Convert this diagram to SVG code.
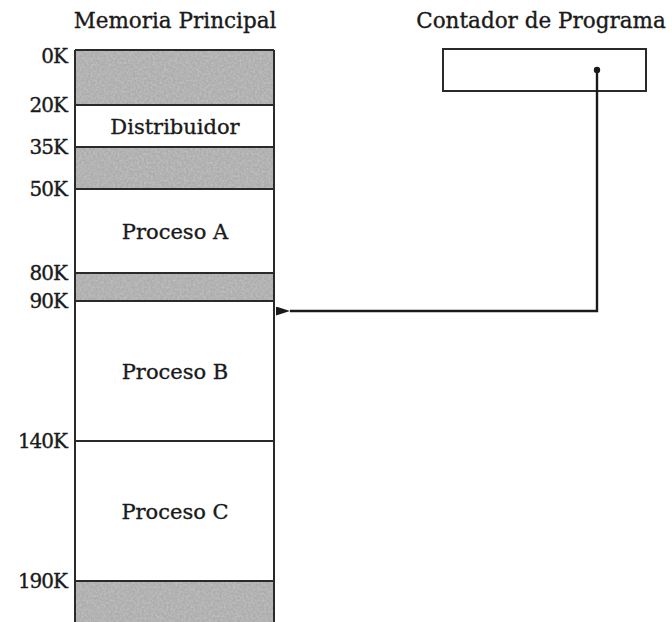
<svg xmlns="http://www.w3.org/2000/svg" width="672" height="622" viewBox="0 0 672 622">
<style>
  text { font-family: "DejaVu Serif", "Liberation Serif", serif; fill: #1a1a1a; stroke: #1a1a1a; stroke-width: 0.35; }
  .title { font-size: 21.5px; text-anchor: middle; }
  .addr { font-size: 20px; text-anchor: end; letter-spacing: -1px; }
  .lbl { font-size: 21px; text-anchor: middle; }
  .free { fill: #adadad; stroke: none; }
  .tex { filter: url(#noise); }
  .sep { stroke: #2a2a2a; stroke-width: 2; fill: none; }
  .box { fill: #fff; stroke: #2a2a2a; stroke-width: 2; }
  .conn { stroke: #1a1a1a; stroke-width: 2.4; fill: none; }
</style>
<defs>
  <filter id="noise" x="0" y="0" width="100%" height="100%">
    <feTurbulence type="fractalNoise" baseFrequency="0.45" numOctaves="2" seed="3" result="n"/>
    <feColorMatrix in="n" type="matrix" values="0 0 0 0 0.55  0 0 0 0 0.55  0 0 0 0 0.55  0 0 0 1.6 -0.55" result="g"/>
    <feComposite in="g" in2="SourceGraphic" operator="in" result="gi"/>
    <feMerge><feMergeNode in="SourceGraphic"/><feMergeNode in="gi"/></feMerge>
  </filter>
  <marker id="arr" viewBox="0 0 14 9" refX="0" refY="4.5" markerWidth="14" markerHeight="9" markerUnits="userSpaceOnUse" orient="auto">
    <path d="M14,0 L0,4.5 L14,9 Z" fill="#1a1a1a"/>
  </marker>
</defs>
<rect width="672" height="622" fill="#fff"/>

<text class="title" x="175" y="28">Memoria Principal</text>
<text class="title" x="541" y="28">Contador de Programa</text>

<g id="memoria">
  <g id="libre-0-20">
    <rect class="free tex" x="75" y="50" width="199" height="55"/>
    <text class="addr" x="67" y="63">0K</text>
  </g>
  <g id="distribuidor">
    <rect x="75" y="105" width="199" height="42" fill="#fff"/>
    <text class="lbl" x="175" y="134">Distribuidor</text>
    <text class="addr" x="67" y="112">20K</text>
  </g>
  <g id="libre-35-50">
    <rect class="free tex" x="75" y="147" width="199" height="42"/>
    <text class="addr" x="67" y="154">35K</text>
  </g>
  <g id="proceso-a">
    <rect x="75" y="189" width="199" height="84" fill="#fff"/>
    <text class="lbl" x="175" y="239">Proceso A</text>
    <text class="addr" x="67" y="196">50K</text>
  </g>
  <g id="libre-80-90">
    <rect class="free tex" x="75" y="273" width="199" height="28"/>
    <text class="addr" x="67" y="280">80K</text>
  </g>
  <g id="proceso-b">
    <rect x="75" y="301" width="199" height="140" fill="#fff"/>
    <text class="lbl" x="175" y="379">Proceso B</text>
    <text class="addr" x="67" y="308">90K</text>
  </g>
  <g id="proceso-c">
    <rect x="75" y="441" width="199" height="140" fill="#fff"/>
    <text class="lbl" x="175" y="519">Proceso C</text>
    <text class="addr" x="67" y="448">140K</text>
  </g>
  <g id="libre-190">
    <rect class="free tex" x="75" y="581" width="199" height="45"/>
    <text class="addr" x="67" y="588">190K</text>
  </g>
  <path class="sep" d="M75,50 H274 M75,105 H274 M75,147 H274 M75,189 H274 M75,273 H274 M75,301 H274 M75,441 H274 M75,581 H274 M75,50 V624 M274,50 V624"/>
</g>

<g id="contador">
  <rect class="box" x="443" y="49" width="203" height="42"/>
  <circle cx="597" cy="70" r="3.2" fill="#1a1a1a"/>
</g>

<g id="conectores">
  <path class="conn" d="M597,70 V311 H290" marker-end="url(#arr)"/>
</g>
</svg>
